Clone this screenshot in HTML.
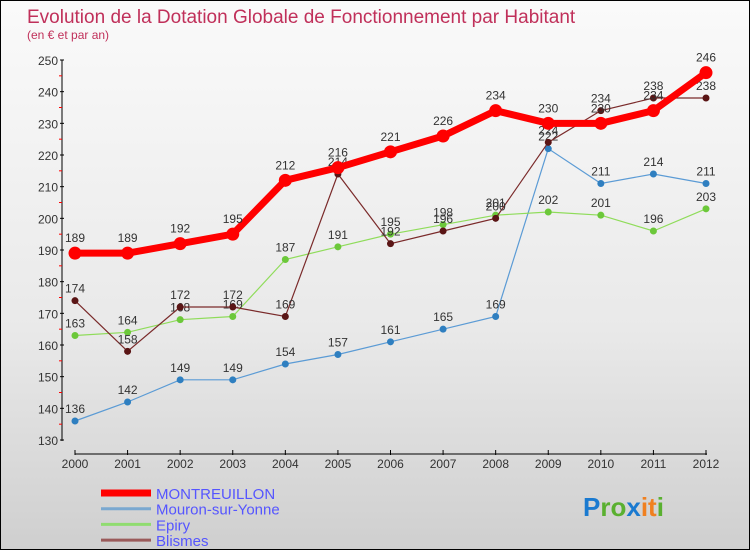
<!DOCTYPE html>
<html><head><meta charset="utf-8"><style>
body{margin:0}
#c{width:748px;height:548px;border:1px solid #000;background:linear-gradient(#fafafa,#e9e9e9 60%,#cfcfcf);position:relative;overflow:hidden;font-family:"Liberation Sans",sans-serif}
</style></head><body>
<div id="c">
<svg id="s" width="748" height="548" style="position:absolute;left:0;top:0"></svg>
</div>
<script>
const years=["2000","2001","2002","2003","2004","2005","2006","2007","2008","2009","2010","2011","2012"];
const yTicks=[130,140,150,160,170,180,190,200,210,220,230,240,250];
const montreuillon=[189,189,192,195,212,216,221,226,234,230,230,234,246];
const mouron=[136,142,149,149,154,157,161,165,169,222,211,214,211];
const epiry=[163,164,168,169,187,191,195,198,201,202,201,196,203];
const blismes=[174,158,172,172,169,214,192,196,200,224,234,238,238];
const seriesNames=["MONTREUILLON","Mouron-sur-Yonne","Epiry","Blismes"];
const NS="http://www.w3.org/2000/svg";
const s=document.getElementById('s');
function X(i){return 74+i*(705-74)/12;}
function Y(v){return 439-(v-130)*(380/120);}
function el(t,a,txt){const e=document.createElementNS(NS,t);for(const k in a)e.setAttribute(k,a[k]);if(txt!==undefined)e.textContent=txt;s.appendChild(e);return e;}
let e;
e=el('text',{x:26,y:22,'font-size':19,fill:'#c0305a'},'Evolution de la Dotation Globale de Fonctionnement par Habitant');

e=el('text',{x:26,y:38,'font-size':12,fill:'#c0305a'},'(en € et par an)');

e=el('line',{x1:61,y1:59,x2:61,y2:440,stroke:'#000'});

yTicks.forEach((v,i)=>{
 el('line',{x1:59,y1:Y(v),x2:63,y2:Y(v),stroke:'#000'});
 if(i<yTicks.length-1)el('line',{x1:58,y1:Y(v+5),x2:61,y2:Y(v+5),stroke:'#f00'});
 e=el('text',{x:57,y:Y(v)+5,'font-size':12,fill:'#333','text-anchor':'end'},v);
 
});
e=el('line',{x1:74,y1:453,x2:706,y2:453,stroke:'#000'});

years.forEach((y,i)=>{
 el('line',{x1:X(i),y1:449,x2:X(i),y2:454,stroke:'#000'});
 e=el('text',{x:X(i),y:467,'font-size':12,fill:'#333','text-anchor':'middle'},y);
 
});
function series(data,color,dot,w,r,name){
 const g=el('g',{});
 
 const p=document.createElementNS(NS,'polyline');
 p.setAttribute('points',data.map((v,i)=>X(i)+','+Y(v)).join(' '));
 p.setAttribute('fill','none');p.setAttribute('stroke',color);p.setAttribute('stroke-width',w);
 g.appendChild(p);
 data.forEach((v,i)=>{
  const c=document.createElementNS(NS,'circle');
  c.setAttribute('cx',X(i));c.setAttribute('cy',Y(v));c.setAttribute('r',r);c.setAttribute('fill',dot);
  
  g.appendChild(c);
  const t=document.createElementNS(NS,'text');
  t.setAttribute('x',X(i));t.setAttribute('y',Y(v)-8-(r>4?3:0));t.setAttribute('font-size',12);
  t.setAttribute('fill','#333');t.setAttribute('text-anchor','middle');t.textContent=v;
  
  g.appendChild(t);
 });
}
series(mouron,'#5b9bd5','#2f7fc0',1.2,3.5,'mouron-series');
series(epiry,'#8fdc5a','#6cc83a',1.2,3.5,'epiry-series');
series(blismes,'#7a2a2a','#5a1515',1.2,3.5,'blismes-series');
series(montreuillon,'#f00','#f00',7,6.5,'montreuillon-series');
const lc=['#f00','#7aa8d0','#90dc70','#9a5a5a'],lw=[7,3,3,3];
seriesNames.forEach((n,i)=>{
 const y=492+i*15.7;
 e=el('line',{x1:100,y1:y,x2:150,y2:y,stroke:lc[i],'stroke-width':lw[i]});
 
 e=el('text',{x:155,y:y+6,'font-size':15,fill:'#55f'},n);
 
});
const lg=el('text',{x:582,y:515,'font-size':26,'font-weight':'bold'});

[['P','#1a7ad0'],['ro','#5ab030'],['x','#1a7ad0'],['it','#f08020'],['i','#5ab030']].forEach(([t,c])=>{const sp=document.createElementNS(NS,'tspan');sp.setAttribute('fill',c);sp.textContent=t;lg.appendChild(sp);});
</script>
</body></html>
